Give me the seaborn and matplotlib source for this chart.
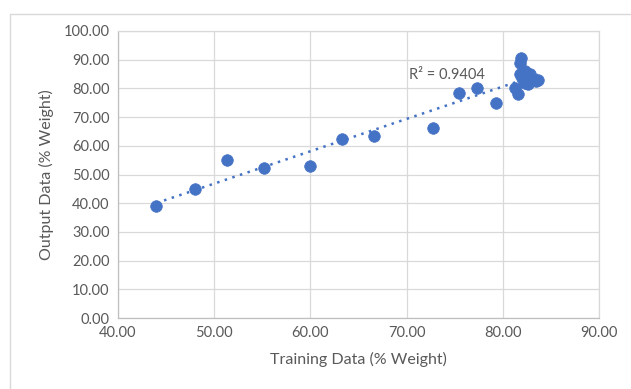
import matplotlib
matplotlib.use("Agg")
import matplotlib.pyplot as plt
import seaborn as sns
import pandas as pd
from matplotlib.patches import Rectangle

training = [44.0, 48.0, 51.3, 55.2, 60.0, 63.3, 66.6, 72.7, 75.4, 77.3, 79.3,
            81.3, 81.6, 81.9, 81.8, 81.8, 82.3, 82.5, 82.8, 82.3, 82.6, 83.0,
            83.5, 83.7, 82.0]
output = [39.0, 45.0, 55.0, 52.2, 53.0, 62.5, 63.4, 66.2, 78.3, 80.0, 75.0,
          80.0, 78.0, 90.5, 89.0, 85.0, 86.0, 84.0, 85.0, 82.0, 81.5, 83.0,
          82.5, 83.0, 83.5]
r2_label = "R² = 0.9404"
xlabel = "Training Data (% Weight)"
ylabel = "Output Data (% Weight)"

df = pd.DataFrame({"train": training, "out": output})

sns.set_theme(style="white")
plt.rcParams['font.family'] = ['Lato', 'DejaVu Sans']

fig = plt.figure(figsize=(6.31, 3.89), dpi=100)
ax = fig.add_axes([118/631, 1-318/389, (599-118)/631, (318-31)/389])

fig.patches.append(Rectangle((10/631, -0.1), 1.0, 1 - 14/389 + 0.1, transform=fig.transFigure,
                             fill=False, edgecolor="#d9d9d9", linewidth=1.0))

blue = "#4472C4"
sns.regplot(data=df, x="train", y="out", ax=ax, ci=None, scatter=False,
            line_kws=dict(color=blue, linestyle=(0, (1, 2.2)), linewidth=1.8))
sns.scatterplot(data=df, x="train", y="out", ax=ax, color=blue, s=70,
                edgecolor=blue, linewidth=0.5, zorder=3)

ax.set_xlim(40, 90)
ax.set_ylim(0, 100)
ax.set_xticks(range(40, 91, 10))
ax.set_yticks(range(0, 101, 10))
ax.set_xticklabels([f"{v:.2f}" for v in range(40, 91, 10)])
ax.set_yticklabels([f"{v:.2f}" for v in range(0, 101, 10)])
ax.tick_params(axis="both", length=0, labelsize=10.5, colors="#595959", pad=6)
ax.grid(True, color="#d9d9d9", linewidth=0.9)
for s in ax.spines.values():
    s.set_color("#d9d9d9")
    s.set_linewidth(0.9)
ax.spines["left"].set_color("#bfbfbf")
ax.spines["bottom"].set_color("#bfbfbf")
ax.set_axisbelow(True)

ax.set_xlabel(xlabel, fontsize=11.5, color="#595959", labelpad=8)
ax.set_ylabel(ylabel, fontsize=11.5, color="#595959", labelpad=7)

ax.text(70.3, 84.5, r2_label, fontsize=10.5, color="#595959", ha="left", va="center")

fig.savefig("out.png", dpi=100)
